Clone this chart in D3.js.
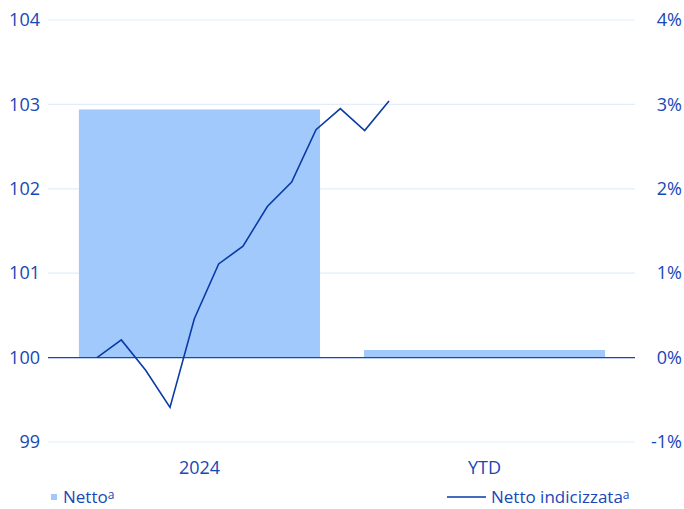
<!DOCTYPE html>
<html>
<head>
<meta charset="utf-8">
<script src="https://cdn.jsdelivr.net/npm/d3@7"></script>
<style>
  body { margin: 0; background: #fff; }
  text { font-family: "Open Sans", "Noto Sans", sans-serif; fill: #1747b8; }
</style>
</head>
<body>
<div id="chart"></div>
<script>
// categorie e valori
const categorie = ["2024", "YTD"];
const netto = [2.94, 0.09];            // % (asse destro)
const indicizzata = [100.0, 100.21, 99.85, 99.41, 100.46, 101.11, 101.32,
                     101.79, 102.08, 102.70, 102.95, 102.69, 103.04]; // asse sinistro
const tickSx = [99, 100, 101, 102, 103, 104];
const tickDx = [-1, 0, 1, 2, 3, 4];

const width = 684, height = 509;
const svg = d3.select("#chart").append("svg")
    .attr("width", width).attr("height", height);

const gridX0 = 48, gridX1 = 635;

const ySx = d3.scaleLinear().domain([99, 104]).range([442, 20]);
const yDx = d3.scaleLinear().domain([-1, 4]).range([442, 20]);

const x = d3.scaleBand().domain(categorie).range([35, 649]).padding(0.154);

// linea: punti mensili
const xl = d3.scaleLinear().domain([0, indicizzata.length - 1]).range([97, 389]);

// griglia
svg.append("g").selectAll("line")
    .data(tickSx)
    .enter().append("line")
    .attr("x1", gridX0).attr("x2", gridX1)
    .attr("y1", d => ySx(d)).attr("y2", d => ySx(d))
    .attr("stroke", "#e1edfb").attr("stroke-width", 1.2);

// barre
svg.append("g").selectAll("rect")
    .data(netto)
    .enter().append("rect")
    .attr("x", (d, i) => x(categorie[i]))
    .attr("y", d => yDx(d))
    .attr("width", x.bandwidth())
    .attr("height", d => yDx(0) - yDx(d))
    .attr("fill", "#a2c9fb");

// linea dello zero
svg.append("line")
    .attr("x1", gridX0).attr("x2", gridX1)
    .attr("y1", ySx(100)).attr("y2", ySx(100))
    .attr("stroke", "#1448b8").attr("stroke-width", 1.3);

// linea indicizzata
svg.append("path")
    .datum(indicizzata)
    .attr("fill", "none")
    .attr("stroke", "#0a3aa6")
    .attr("stroke-width", 1.6)
    .attr("stroke-linejoin", "miter")
    .attr("d", d3.line().x((d, i) => xl(i)).y(d => ySx(d)));

// assi
const axSx = svg.append("g")
    .attr("transform", `translate(40,0)`)
    .call(d3.axisLeft(ySx).tickValues(tickSx).tickSize(0).tickPadding(0).tickFormat(d3.format("d")));
const axDx = svg.append("g")
    .attr("transform", `translate(682,0)`)
    .call(d3.axisLeft(yDx).tickValues(tickDx).tickSize(0).tickPadding(0)
        .tickFormat(d => (d < 0 ? "-" + Math.abs(d) : d) + "%"));
[axSx, axDx].forEach(g => {
    g.select(".domain").remove();
    g.selectAll("text").attr("font-size", 18).attr("fill", "#1747b8")
        .style("font-family", '"Open Sans", "Noto Sans", sans-serif');
});

// etichette categorie
svg.append("g").selectAll("text")
    .data(categorie)
    .enter().append("text")
    .attr("x", d => x(d) + x.bandwidth() / 2)
    .attr("y", 474)
    .attr("text-anchor", "middle")
    .attr("font-size", 18)
    .text(d => d);

// legenda
svg.append("rect")
    .attr("x", 51).attr("y", 494).attr("width", 6).attr("height", 6)
    .attr("fill", "#a2c9fb");
const l1 = svg.append("text").attr("x", 63).attr("y", 503).attr("font-size", 17);
l1.append("tspan").text("Netto");
l1.append("tspan").attr("font-size", 12).attr("dy", -4).text("a");

svg.append("line")
    .attr("x1", 447).attr("x2", 486).attr("y1", 497).attr("y2", 497)
    .attr("stroke", "#0a3aa6").attr("stroke-width", 1.6);
const l2 = svg.append("text").attr("x", 491).attr("y", 503).attr("font-size", 17);
l2.append("tspan").text("Netto indicizzata");
l2.append("tspan").attr("font-size", 12).attr("dy", -4).text("a");
</script>
</body>
</html>
